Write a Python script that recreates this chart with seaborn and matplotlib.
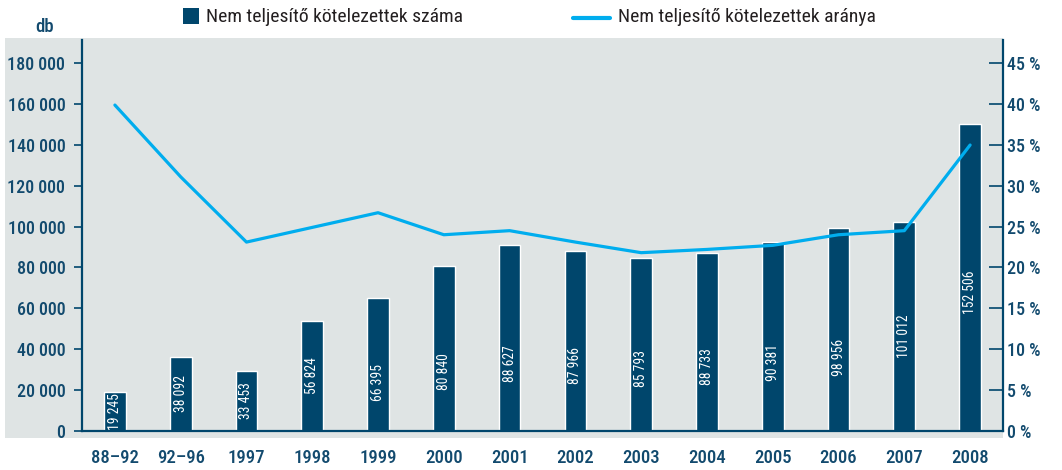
import numpy as np
import pandas as pd
import matplotlib
matplotlib.use("Agg")
import matplotlib.pyplot as plt
import seaborn as sns
from matplotlib import font_manager
from matplotlib.patches import Rectangle
from matplotlib.lines import Line2D
from matplotlib.ticker import FuncFormatter, MultipleLocator, FixedLocator

# data
periods = ["88–92", "92–96", "1997", "1998", "1999", "2000", "2001",
           "2002", "2003", "2004", "2005", "2006", "2007", "2008"]
counts = [19000, 36200, 29300, 53900, 65000, 80600, 90900,
          88000, 84600, 87000, 92400, 99400, 102200, 150200]
count_labels = [19245, 38092, 33453, 56824, 66395, 80840, 88627,
                87966, 85793, 88733, 90381, 98956, 101012, 152506]
rates = [39.9, 31.1, 23.1, 24.9, 26.7, 24.0, 24.5,
         23.1, 21.8, 22.2, 22.7, 24.0, 24.5, 35.0]

NAVY = "#00466c"
TXT = "#124a6e"
CYAN = "#00adee"
BG = "#dfe4e4"

sns.set_theme(style="white")
names = {f.name for f in font_manager.fontManager.ttflist}
base = next((n for n in ["Roboto Condensed", "Liberation Sans Narrow",
                         "Open Sans Condensed", "DejaVu Sans"] if n in names),
            "DejaVu Sans")
plt.rcParams["font.family"] = [base, "DejaVu Sans"]
plt.rcParams["font.stretch"] = "condensed"

df = pd.DataFrame({"period": periods, "count": counts, "rate": rates})

fig = plt.figure(figsize=(10.62, 4.70), dpi=100)
fig.patch.set_facecolor("white")
fig.add_artist(Rectangle((5 / 1062, 1 - 438 / 470), 998 / 1062, 400 / 470,
                         transform=fig.transFigure, facecolor=BG,
                         edgecolor="none", zorder=-5))

ax = fig.add_axes([82 / 1062, 1 - 430.5 / 470, 921 / 1062, 390.5 / 470])
ax.set_facecolor("none")
sns.barplot(data=df, x="period", y="count", color=NAVY, saturation=1,
            width=0.33, ax=ax)
ax.set_xlim(-0.5, len(periods) - 0.5)
ax.set_ylim(0, 191500)
ax.set_xlabel("")
ax.set_ylabel("")

# value labels inside the bars
for i, (h, lab) in enumerate(zip(counts, count_labels)):
    if h < 60000:
        yc = h / 2
    elif h < 100000:
        yc = h * 0.36
    else:
        yc = h * 0.45
    ax.text(i, yc, f"{lab:,}".replace(",", " "), rotation=90, color="white",
            ha="center", va="center", fontsize=9.8)

ax.yaxis.set_major_locator(MultipleLocator(20000))
ax.yaxis.set_major_formatter(FuncFormatter(lambda v, p: f"{v:,.0f}".replace(",", " ")))
ax.tick_params(axis="y", direction="out", length=6, width=1.2, color=NAVY,
               labelcolor=TXT, labelsize=13, pad=6)
ax.xaxis.set_minor_locator(FixedLocator(np.arange(-0.5, len(periods), 1)))
ax.tick_params(axis="x", which="major", length=0, labelcolor=TXT,
               labelsize=13.5, pad=13)
ax.tick_params(axis="x", which="minor", direction="out", length=9, width=1.2,
               color=NAVY)
for lab in ax.get_xticklabels() + ax.get_yticklabels():
    lab.set_fontweight("medium")
for s in ["top", "right"]:
    ax.spines[s].set_visible(False)
for s in ["left", "bottom"]:
    ax.spines[s].set_color(NAVY)
    ax.spines[s].set_linewidth(1.6)

ax2 = ax.twinx()
sns.lineplot(x=np.arange(len(periods)), y=rates, color=CYAN, linewidth=2.3,
             ax=ax2, sort=False)
ax2.set_ylim(0, 191500 / 4000)
ax2.yaxis.set_major_locator(MultipleLocator(5))
ax2.yaxis.set_major_formatter(FuncFormatter(lambda v, p: f"{v:.0f} %"))
ax2.tick_params(axis="y", direction="in", length=10, width=1.2, color=NAVY,
                labelcolor=TXT, labelsize=13, pad=3)
for lab in ax2.get_yticklabels():
    lab.set_fontweight("medium")
for s in ["top", "left", "bottom"]:
    ax2.spines[s].set_visible(False)
ax2.spines["right"].set_color(NAVY)
ax2.spines["right"].set_linewidth(1.6)
ax2.set_ylabel("")

fig.text(45 / 1062, 1 - 27 / 470, "db", color=TXT, fontsize=13.5,
         fontweight="medium", ha="center", va="center")

# legend drawn by hand to copy the square / line markers
fig.add_artist(Rectangle((183 / 1062, 1 - 24 / 470), 16 / 1062, 16 / 470,
                         transform=fig.transFigure, facecolor=NAVY,
                         edgecolor="none"))
fig.text(206 / 1062, 1 - 17 / 470, "Nem teljesítő kötelezettek száma",
         color="#231f20", fontsize=14, ha="left", va="center")
fig.add_artist(Line2D([573 / 1062, 610 / 1062], [1 - 18 / 470, 1 - 18 / 470],
                      transform=fig.transFigure, color=CYAN, linewidth=3))
fig.text(618 / 1062, 1 - 17 / 470, "Nem teljesítő kötelezettek aránya",
         color="#231f20", fontsize=14, ha="left", va="center")

fig.savefig("out.png", dpi=100)
